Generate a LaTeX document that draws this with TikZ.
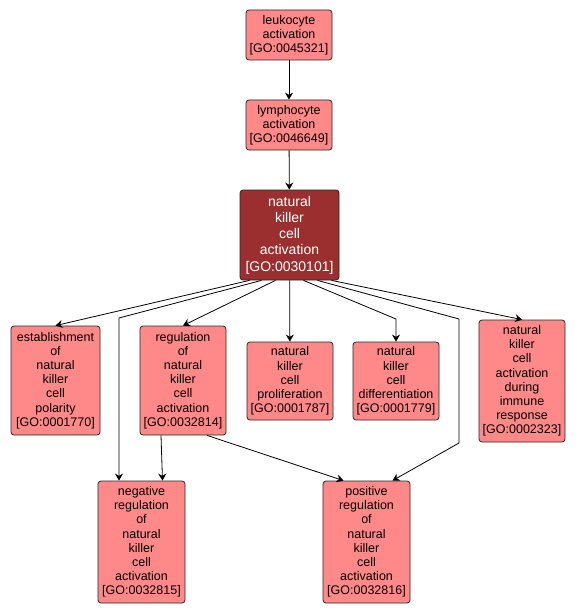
\documentclass[tikz,border=0pt]{standalone}
\usepackage{fontspec}
\setmainfont{Liberation Sans}
\usetikzlibrary{arrows.meta}
\definecolor{goFill}{RGB}{255,137,137}
\definecolor{goDark}{RGB}{155,47,47}
\tikzset{
  goterm/.style={draw=black!85,fill=goFill,rounded corners=3pt,align=center,inner sep=0pt,
    line width=0.8pt,font=\fontsize{12.5}{14.2}\selectfont},
  gohit/.style={goterm,fill=goDark,text=white,font=\fontsize{14}{16.3}\selectfont},
  isa/.style={-{Stealth[length=7pt,width=8pt]},line width=0.8pt}
}

\begin{document}
\begin{tikzpicture}[x=1pt,y=-1pt]
  \useasboundingbox (0,0) rectangle (576,615);
  % terms
  \node[goterm,minimum width=86,minimum height=50] (leuk) at (289,35) {leukocyte\\activation\\{}[GO:0045321]};
  \node[goterm,minimum width=86,minimum height=50] (lymph) at (289,125) {lymphocyte\\activation\\{}[GO:0046649]};
  \node[gohit,minimum width=99,minimum height=90] (nk) at (289.5,235) {natural\\killer\\cell\\activation\\{}[GO:0030101]};
  \node[goterm,minimum width=89,minimum height=109] (est) at (55.5,380.5) {establishment\\of\\natural\\killer\\cell\\polarity\\{}[GO:0001770]};
  \node[goterm,minimum width=86,minimum height=109] (reg) at (183,380.5) {regulation\\of\\natural\\killer\\cell\\activation\\{}[GO:0032814]};
  \node[goterm,minimum width=86,minimum height=78] (prol) at (290,381) {natural\\killer\\cell\\proliferation\\{}[GO:0001787]};
  \node[goterm,minimum width=86,minimum height=78] (diff) at (396,381) {natural\\killer\\cell\\differentiation\\{}[GO:0001779]};
  \node[goterm,minimum width=86,minimum height=122] (imm) at (522,381) {natural\\killer\\cell\\activation\\during\\immune\\response\\{}[GO:0002323]};
  \node[goterm,minimum width=87,minimum height=122] (neg) at (141.5,542) {negative\\regulation\\of\\natural\\killer\\cell\\activation\\{}[GO:0032815]};
  \node[goterm,minimum width=87,minimum height=122] (pos) at (366.5,542) {positive\\regulation\\of\\natural\\killer\\cell\\activation\\{}[GO:0032816]};
  % bends
  \coordinate (bendneg) at (119,318);
  \coordinate (benddiff) at (396,319);
  \coordinate (bendposa) at (459,319);
  \coordinate (bendposb) at (459,443);
  % is_a edges
  \draw[isa] (leuk) -- (lymph);
  \draw[isa] (lymph) -- (nk);
  \draw[isa] ([xshift=-40]nk.south) -- (est.north);
  \draw[isa] ([xshift=-28]nk.south) -- (bendneg) -- (bendneg |- neg.north);
  \draw[isa] ([xshift=-14]nk.south) -- (reg.north);
  \draw[isa] (nk) -- (prol);
  \draw[isa] ([xshift=14]nk.south) -- (benddiff) -- (diff);
  \draw[isa] ([xshift=28]nk.south) -- (bendposa) -- (bendposb) -- ([xshift=26]pos.north);
  \draw[isa] ([xshift=42]nk.south) -- (imm.north);
  \draw[isa] ([xshift=-22]reg.south) -- ([xshift=21]neg.north);
  \draw[isa] ([xshift=24]reg.south) -- ([xshift=-23]pos.north);
\end{tikzpicture}
\end{document}
